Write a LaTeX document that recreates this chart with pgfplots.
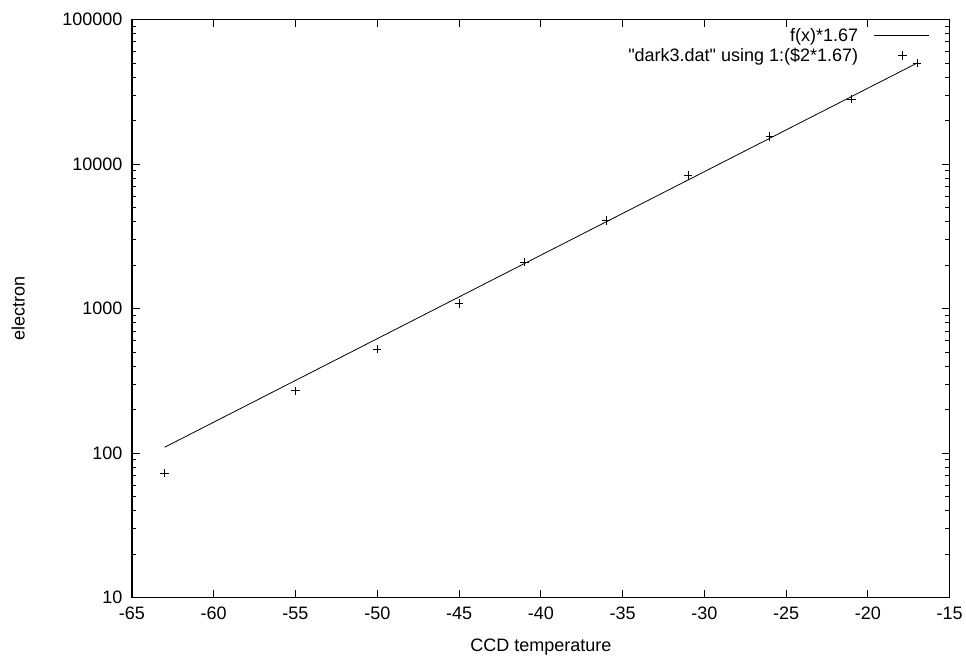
\documentclass[border=0pt]{standalone}
\usepackage{fontspec}
\setmainfont{Liberation Sans}[Ligatures=TeXOff]
\usepackage{pgfplots}
\pgfplotsset{compat=1.18}
\pgfplotsset{
  longline legend/.style={legend image code/.code={\path[draw=none] (0pt,0pt) -- (69pt,0pt); \draw[##1] (14pt,0pt) -- (69pt,0pt);}},
  plus legend/.style={legend image code/.code={\path[draw=none] (0pt,0pt) -- (69pt,0pt); \draw[##1] plot coordinates {(42.5pt,0pt)};}},
}
\begin{document}
\begin{tikzpicture}
\begin{axis}[
  at={(0pt,0pt)}, anchor=south west,
  scale only axis,
  width=818pt, height=578.5pt,
  ymode=log,
  xmin=-65, xmax=-15, ymin=10, ymax=100000,
  xtick={-65,-60,-55,-50,-45,-40,-35,-30,-25,-20,-15},
  xticklabels={-65,-60,-55,-50,-45,-40,-35,-30,-25,-20,-15},
  ytick={10,100,1000,10000,100000},
  yticklabels={10,100,1000,10000,100000},
  axis line style={black, line width=1.1pt},
  tick style={black, line width=0.9pt},
  major tick length=8pt, minor tick length=4.5pt,
  tick align=inside,
  xtick pos=both, ytick pos=both,
  xticklabel style={font=\fontsize{18}{22}\selectfont, anchor=north, yshift=-6pt},
  yticklabel style={font=\fontsize{18}{22}\selectfont, anchor=east, xshift=-6pt},
  xlabel={CCD temperature},
  ylabel={electron},
  x label style={font=\fontsize{18}{22}\selectfont, at={(axis description cs:0.5,-0.0846)}, anchor=center},
  y label style={font=\fontsize{18}{22}\selectfont, at={(axis description cs:-0.139,0.5)}, anchor=center},
  legend style={at={(axis description cs:0.9756,0.9884)}, anchor=north east, draw=none, fill=none,
    font=\fontsize{18}{20}\selectfont, row sep=1pt, inner sep=0pt,
    nodes={inner sep=2pt}},
  legend cell align=right,
  legend plot pos=right,
]
\addplot[black, line width=0.8pt, mark=none, longline legend]
  coordinates {(-63,110) (-17,49900)};
\addlegendentry{f(x)*1.67}
\addplot[black, only marks, mark=+, mark size=4.2pt, line width=0.8pt, plus legend]
  coordinates {
  (-63,72.8) (-55,270) (-50,525) (-45,1085) (-41,2100)
  (-36,4065) (-31,8320) (-26,15500) (-21,28200) (-17,49900)};
\addlegendentry{"dark3.dat" using 1:(\$2*1.67)}
\end{axis}
\path[use as bounding box] (-132pt,-61pt) rectangle (834pt,598pt);
\end{tikzpicture}
\end{document}
